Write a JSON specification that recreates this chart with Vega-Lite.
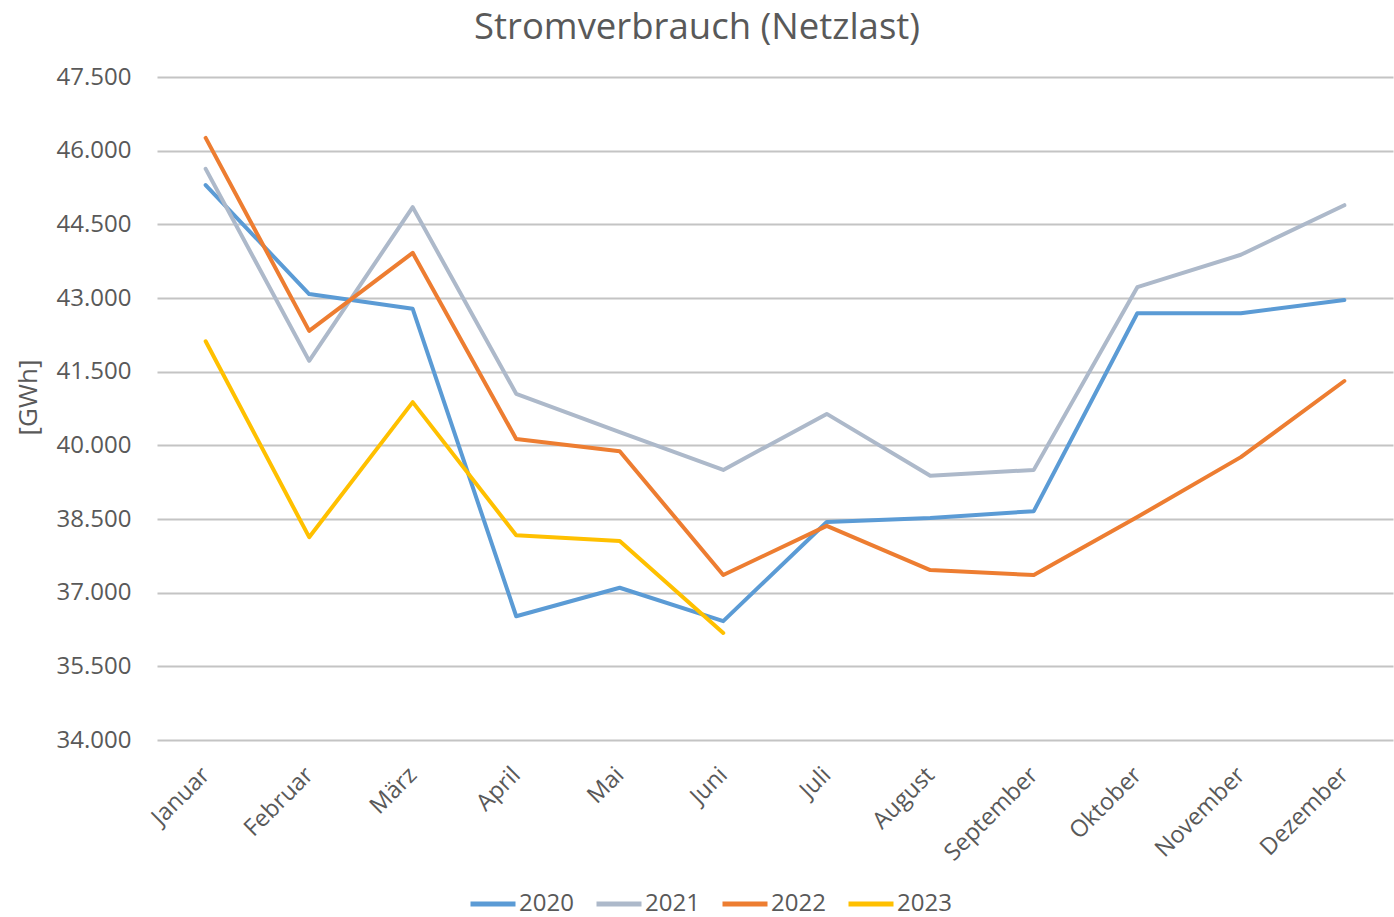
{
  "$schema": "https://vega.github.io/schema/vega-lite/v6.json",
  "autosize": {"type": "none"},
  "padding": {"left": 157, "top": 77, "right": 1, "bottom": 177},
  "width": 1236,
  "height": 663,
  "background": "white",
  "title": {
    "text": "Stromverbrauch (Netzlast)",
    "fontSize": 36.5,
    "font": "Open Sans",
    "fontWeight": "normal",
    "color": "#595959",
    "anchor": "middle",
    "dx": -78,
    "offset": 19
  },
  "config": {
    "view": {"stroke": null},
    "font": "Open Sans"
  },
  "data": {
    "values": [
      {"Monat": "Januar", "Jahr": "2020", "GWh": 45300},
      {"Monat": "Februar", "Jahr": "2020", "GWh": 43080},
      {"Monat": "März", "Jahr": "2020", "GWh": 42780},
      {"Monat": "April", "Jahr": "2020", "GWh": 36520},
      {"Monat": "Mai", "Jahr": "2020", "GWh": 37100},
      {"Monat": "Juni", "Jahr": "2020", "GWh": 36420},
      {"Monat": "Juli", "Jahr": "2020", "GWh": 38440},
      {"Monat": "August", "Jahr": "2020", "GWh": 38520},
      {"Monat": "September", "Jahr": "2020", "GWh": 38660},
      {"Monat": "Oktober", "Jahr": "2020", "GWh": 42690},
      {"Monat": "November", "Jahr": "2020", "GWh": 42690},
      {"Monat": "Dezember", "Jahr": "2020", "GWh": 42960},
      {"Monat": "Januar", "Jahr": "2021", "GWh": 45630},
      {"Monat": "Februar", "Jahr": "2021", "GWh": 41720},
      {"Monat": "März", "Jahr": "2021", "GWh": 44850},
      {"Monat": "April", "Jahr": "2021", "GWh": 41050},
      {"Monat": "Mai", "Jahr": "2021", "GWh": 40270},
      {"Monat": "Juni", "Jahr": "2021", "GWh": 39500},
      {"Monat": "Juli", "Jahr": "2021", "GWh": 40640},
      {"Monat": "August", "Jahr": "2021", "GWh": 39380},
      {"Monat": "September", "Jahr": "2021", "GWh": 39500},
      {"Monat": "Oktober", "Jahr": "2021", "GWh": 43220},
      {"Monat": "November", "Jahr": "2021", "GWh": 43880},
      {"Monat": "Dezember", "Jahr": "2021", "GWh": 44890},
      {"Monat": "Januar", "Jahr": "2022", "GWh": 46260},
      {"Monat": "Februar", "Jahr": "2022", "GWh": 42330},
      {"Monat": "März", "Jahr": "2022", "GWh": 43920},
      {"Monat": "April", "Jahr": "2022", "GWh": 40130},
      {"Monat": "Mai", "Jahr": "2022", "GWh": 39880},
      {"Monat": "Juni", "Jahr": "2022", "GWh": 37360},
      {"Monat": "Juli", "Jahr": "2022", "GWh": 38360},
      {"Monat": "August", "Jahr": "2022", "GWh": 37460},
      {"Monat": "September", "Jahr": "2022", "GWh": 37360},
      {"Monat": "Oktober", "Jahr": "2022", "GWh": 38540},
      {"Monat": "November", "Jahr": "2022", "GWh": 39760},
      {"Monat": "Dezember", "Jahr": "2022", "GWh": 41310},
      {"Monat": "Januar", "Jahr": "2023", "GWh": 42120},
      {"Monat": "Februar", "Jahr": "2023", "GWh": 38130},
      {"Monat": "März", "Jahr": "2023", "GWh": 40880},
      {"Monat": "April", "Jahr": "2023", "GWh": 38170},
      {"Monat": "Mai", "Jahr": "2023", "GWh": 38050},
      {"Monat": "Juni", "Jahr": "2023", "GWh": 36180}
    ]
  },
  "mark": {"type": "line", "strokeWidth": 4, "strokeJoin": "round", "strokeCap": "round"},
  "encoding": {
    "x": {
      "field": "Monat",
      "type": "nominal",
      "sort": ["Januar", "Februar", "März", "April", "Mai", "Juni", "Juli", "August", "September", "Oktober", "November", "Dezember"],
      "scale": {"type": "point", "padding": 0.47},
      "axis": {
        "title": null,
        "domain": false,
        "ticks": false,
        "grid": false,
        "labelAngle": -45,
        "labelAlign": "right",
        "labelBaseline": "middle",
        "labelPadding": 31,
        "labelFontSize": 23.5,
        "labelColor": "#595959",
        "labelFont": "Open Sans"
      }
    },
    "y": {
      "field": "GWh",
      "type": "quantitative",
      "scale": {"domain": [34000, 47500], "nice": false, "zero": false},
      "axis": {
        "values": [34000, 35500, 37000, 38500, 40000, 41500, 43000, 44500, 46000, 47500],
        "labelExpr": "replace(format(datum.value, ',.0f'), ',', '.')",
        "domain": false,
        "ticks": false,
        "labelPadding": 26,
        "labelFontSize": 24,
        "labelColor": "#595959",
        "labelFont": "Open Sans",
        "gridColor": "#C4C4C4",
        "gridWidth": 2,
        "title": "[GWh]",
        "titleFontSize": 26,
        "titleFontWeight": "normal",
        "titleColor": "#595959",
        "titleFont": "Open Sans",
        "titleX": -129,
        "titleY": 320,
        "titleAngle": -90,
        "titleAlign": "center",
        "titleBaseline": "middle"
      }
    },
    "color": {
      "field": "Jahr",
      "type": "nominal",
      "scale": {
        "domain": ["2020", "2021", "2022", "2023"],
        "range": ["#5B9BD5", "#ADB9CA", "#ED7D31", "#FFC000"]
      },
      "legend": {
        "title": null,
        "orient": "none",
        "direction": "horizontal",
        "legendX": 311,
        "legendY": 802,
        "symbolType": "stroke",
        "symbolSize": 2025,
        "symbolStrokeWidth": 5,
        "labelFontSize": 24,
        "labelColor": "#595959",
        "labelFont": "Open Sans",
        "labelOffset": 1,
        "columnPadding": 12
      }
    }
  }
}
